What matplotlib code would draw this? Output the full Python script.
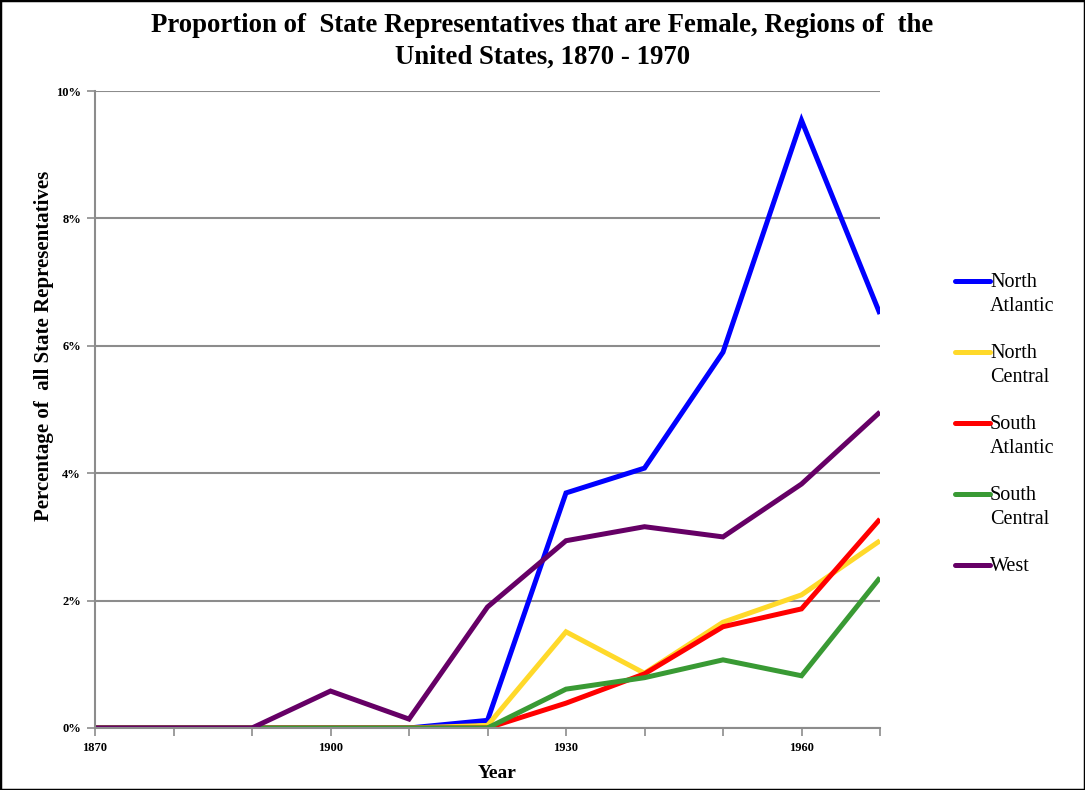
import matplotlib
matplotlib.use("Agg")
import matplotlib.pyplot as plt
from matplotlib.lines import Line2D
from matplotlib.patches import Rectangle
from matplotlib.ticker import FuncFormatter, MultipleLocator

# data (percent)
years = [1870, 1880, 1890, 1900, 1910, 1920, 1930, 1940, 1950, 1960, 1970]
north_atlantic = [0, 0, 0, 0, 0, 0.12, 3.69, 4.08, 5.90, 9.54, 6.50]
north_central = [0, 0, 0, 0, 0, 0.04, 1.51, 0.86, 1.66, 2.09, 2.94]
south_atlantic = [0, 0, 0, 0, 0, 0, 0.39, 0.85, 1.59, 1.87, 3.28]
south_central = [0, 0, 0, 0, 0, 0, 0.61, 0.79, 1.07, 0.82, 2.36]
west = [0, 0, 0, 0.58, 0.14, 1.90, 2.94, 3.16, 3.00, 3.83, 4.96]

series = [
    ("North\nAtlantic", north_atlantic, "#0000ff"),
    ("North\nCentral", north_central, "#ffd92a"),
    ("South\nAtlantic", south_atlantic, "#ff0000"),
    ("South\nCentral", south_central, "#399a34"),
    ("West", west, "#660066"),
]

serif = ["Liberation Serif", "DejaVu Serif"]
grey = "#8c8c8c"

fig = plt.figure(figsize=(10.85, 7.9), dpi=100)
ax = fig.add_axes([95 / 1085, 62 / 790, 785 / 1085, 637 / 790])

for label, vals, col in series:
    ax.plot(years, vals, color=col, lw=3.6, solid_capstyle="butt",
            solid_joinstyle="miter", label=label)

ax.set_xlim(1870, 1970)
ax.set_ylim(0, 10)
ax.yaxis.set_major_locator(MultipleLocator(2))
ax.yaxis.set_major_formatter(FuncFormatter(lambda v, p: f"{v:.0f}%"))
ax.set_xticks(range(1870, 1971, 10))
ax.set_xticklabels([str(y) if (y - 1870) % 30 == 0 else "" for y in range(1870, 1971, 10)])
ax.grid(axis="y", color=grey, lw=1.5)
ax.set_axisbelow(True)
for s in ["top", "right"]:
    ax.spines[s].set_visible(False)
for s in ["left", "bottom"]:
    ax.spines[s].set_color(grey)
    ax.spines[s].set_linewidth(1.5)
ax.tick_params(colors="black", length=6, width=1.2, color=grey, labelsize=9, pad=4)
for t in ax.get_xticklabels() + ax.get_yticklabels():
    t.set_fontfamily(serif)
    t.set_fontweight("bold")

ax.set_xlabel("Year", fontfamily=serif, fontweight="bold", fontsize=14)
ax.xaxis.set_label_coords(0.512, -0.058)
ax.set_ylabel("Percentage of  all State Representatives", fontfamily=serif,
              fontweight="bold", fontsize=15)
ax.yaxis.set_label_coords(-0.052, 0.6)
fig.suptitle("Proportion of  State Representatives that are Female, Regions of  the\nUnited States, 1870 - 1970",
             fontfamily=serif, fontweight="bold", fontsize=19.3, y=0.984, linespacing=1.35)

# legend: handle aligned with first text line
for i, (label, vals, col) in enumerate(series):
    yy = 1 - (281 + 71 * i) / 790
    fig.add_artist(Line2D([955 / 1085, 990 / 1085], [yy, yy], color=col, lw=3.6,
                          solid_capstyle="round"))
    fig.text(990 / 1085, yy + 8 / 790, label, fontfamily=serif, fontsize=14.5,
             va="top", ha="left", linespacing=1.38)

fig.add_artist(Rectangle((0, 0), 1, 1, transform=fig.transFigure, fill=False,
                         edgecolor="black", lw=2.5))

fig.savefig("out.png", dpi=100)
